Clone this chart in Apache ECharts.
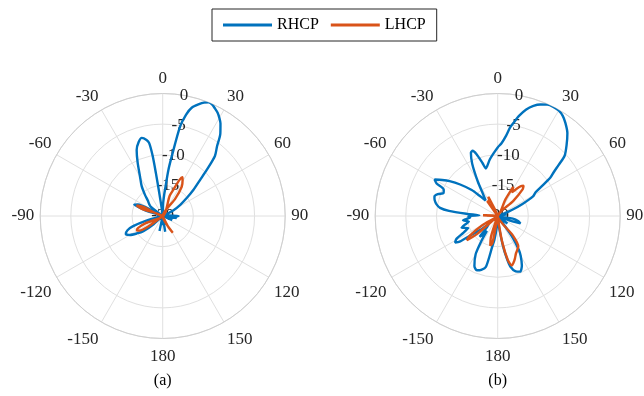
<!DOCTYPE html>
<html>
<head>
<meta charset="utf-8">
<script src="https://cdn.jsdelivr.net/npm/echarts@6/dist/echarts.min.js"></script>
<style>html,body{margin:0;padding:0;background:#fff}#c{width:644px;height:396px}</style>
</head>
<body>
<div id="c"></div>
<script>
// angle tick labels (degrees) and radius ticks (dB)
const angleTicks = [-180,-150,-120,-90,-60,-30,0,30,60,90,120,150,180];
const radiusTicks = [-20,-15,-10,-5,0];
const seriesNames = ['RHCP','LHCP'];
const panelTitles = ['(a)','(b)'];

// [angle deg, gain dB] — panel (a)
const rhcpA = [
[-180,-20],[-176,-18.5],[-173,-20],[-168,-17.5],[-164,-20],[-140,-20],[-132,-18],[-128,-16],[-124,-14.9],[-120,-13.8],[-116,-13.3],[-112,-13.8],[-109,-14.9],[-106,-17],[-102,-20],
[-96,-20],[-92,-19],[-88,-20],[-80,-20],[-72,-17],[-68,-15.0],[-65,-15.5],[-62,-18],[-57,-20],[-52,-17.5],[-48,-17],[-44,-16.5],[-40,-15.5],[-35,-14],[-30,-12.6],
[-25,-10.3],[-21.5,-8.4],[-18,-7.3],[-15,-6.8],[-12,-7.3],[-10.5,-7.9],[-9.5,-10],[-9,-13],[-8.5,-16],[-7,-19],[-3,-20],[0,-20],[2,-18],[4,-16.5],[5,-15.7],[7,-12.5],
[8.6,-10.2],[11,-5.1],[13,-3.0],[15,-1.7],[18,-0.8],[20,-0.3],[22,0],[24,-0.1],[26,-0.5],[28,-0.9],[30,-1.5],[32,-2.2],[35,-3.6],[38,-5.6],[41,-7.0],[43.7,-9.6],
[46,-11.5],[49.6,-13.4],[53,-15],[57.5,-16.6],[62,-18],[66,-19.5],[70,-20],[80,-20],[85,-19],[90,-17.4],[94,-18],[98,-17.7],[102,-20],[110,-20],[113,-18.3],[116,-20],
[150,-20],[160,-18.5],[165,-20],[171,-17.4],[175,-20],[180,-20]
];
const lhcpA = [
[-180,-20],[-130,-20],[-126,-17],[-122,-15.5],[-119,-15.2],[-116,-15.5],[-113,-17],[-110,-20],[-75,-20],[-71,-16.5],[-68,-15.4],[-65,-16.5],[-62,-20],
[0,-20],[16,-20],[19,-16.5],[22,-15.4],[25,-13.5],[27,-12.9],[29,-13.3],[33,-14.3],[36,-16.5],[39,-20],[145,-20],[149,-16.8],[153,-18],[156,-20],[180,-20]
];
// panel (b)
const rhcpB = [
[-180,-20],[-175,-18],[-172,-16],[-170,-15],[-167,-11.5],[-163,-10.8],[-159,-10.5],[-155,-11],[-150,-12.8],[-147,-15],[-144,-17],[-141,-16],[-139,-15.5],[-136,-17.5],
[-132,-18],[-129,-16.5],[-126,-15],[-124,-12.5],[-122,-11.8],[-119,-12.3],[-116,-13.8],[-112,-14.8],[-108,-13.8],[-105,-14.4],[-101,-15.2],[-97,-14.3],[-93,-15.5],
[-90,-15.2],[-88,-17],[-86,-15],[-84,-12],[-82,-10.5],[-79,-9.8],[-76,-9.4],[-73,-9.2],[-70,-9.6],[-67,-10.4],[-64,-10.2],[-62,-8.7],[-60,-8.1],[-57,-9.2],[-54,-10.3],
[-50,-12],[-45,-14],[-42,-15.5],[-38,-16.8],[-34,-15.8],[-30,-13.5],[-26,-10.5],[-23,-8.8],[-21,-8.6],[-19,-9.3],[-16,-11],[-14,-12],[-12,-11.7],[-8,-10.7],[-4,-9.8],
[0,-8.8],[3,-8.1],[6,-6.8],[8,-5.4],[10,-4.4],[12,-3.3],[15,-2.0],[18,-1.1],[21,-0.5],[24,-0.1],[27,0],[30,-0.1],[33,-0.5],[36,-1.2],[40,-2.3],[44,-3.8],[48,-5.3],
[50,-7.0],[52,-8.4],[54,-9.4],[56,-11.3],[58,-12.7],[61,-13.4],[64,-15.5],[67,-17.5],[70,-19],[74,-20],[78,-20],[80,-18.5],[84,-20],[95,-20],[100,-17.5],[104,-16.5],
[108,-16.1],[111,-18],[115,-20],[125,-19],[128,-18],[131,-20],[140,-20],[145,-16],[148,-13.5],[150,-12.5],[154,-11],[158,-10.2],[162,-10.5],[166,-11.5],[168,-13],
[170,-15],[173,-18],[176,-20],[180,-20]
];
const lhcpB = [
[-180,-20],[-172,-20],[-169,-15.5],[-166,-15],[-162,-16.5],[-158,-20],[-135,-20],[-131,-15.5],[-128,-13.6],[-125,-14.5],[-121,-17],[-117,-20],[-90,-20],[-87,-17.6],
[-84,-20],[-40,-20],[-35,-17],[-30,-17.5],[-26,-16.5],[-22,-19],[-15,-20],[20,-20],[25,-17],[28,-14.6],[31,-15.5],[35,-14.5],[38,-13.8],[40.5,-13.5],[43,-14],
[46,-16.5],[50,-20],[138,-20],[142,-16],[146,-14],[150,-13.6],[154,-13.2],[158,-12.5],[161,-12.0],[164,-11.6],[167,-12.6],[170,-15.5],[173,-19],[176,-20],[180,-20]
];

const FONT = 'Liberation Serif';
const BLUE = '#0072BD', ORANGE = '#D95319';
const centers = [[162.7,216],[497.7,216]];
const R = 122.5;

const polar = [], angleAxis = [], radiusAxis = [];
centers.forEach((c, i) => {
  polar.push({center: c, radius: R});
  angleAxis.push({
    polarIndex: i, type: 'value', min: angleTicks[0], max: angleTicks[angleTicks.length-1], interval: 30,
    startAngle: 270, clockwise: true,
    axisLine: {lineStyle: {color: '#cfcfcf', width: 1}},
    axisTick: {show: false},
    splitLine: {lineStyle: {color: '#e0e0e0', width: 1}},
    axisLabel: {margin: 6, padding: [4, 0, 0, 0], fontFamily: FONT, fontSize: 17, color: '#262626',
      showMinLabel: true, showMaxLabel: true,
      formatter: v => (Math.abs(v) === 180 ? '180' : String(v))}
  });
  radiusAxis.push({
    polarIndex: i, type: 'value', min: radiusTicks[0], max: radiusTicks[radiusTicks.length-1], interval: 5,
    axisLine: {show: false}, axisTick: {show: false}, axisLabel: {show: false},
    splitLine: {lineStyle: {color: '#e0e0e0', width: 1}}
  });
});
// overlay polars carrying the radial tick labels at 80 deg (math)
centers.forEach((c, i) => {
  polar.push({center: c, radius: R});
  angleAxis.push({polarIndex: 2 + i, type: 'value', min: 0, max: 360, startAngle: 80, show: false});
  radiusAxis.push({
    polarIndex: 2 + i, type: 'value', min: radiusTicks[0], max: radiusTicks[radiusTicks.length-1], interval: 5,
    axisLine: {show: false}, axisTick: {show: false}, splitLine: {show: false},
    axisLabel: {margin: 0, align: 'center', verticalAlign: 'middle', fontFamily: FONT, fontSize: 17,
      color: '#262626', showMinLabel: true, showMaxLabel: true}
  });
});

function mk(name, data, pi, color) {
  return {
    name: name, type: 'line', coordinateSystem: 'polar', polarIndex: pi,
    showSymbol: false, symbol: 'none', smooth: 0.25, z: 5,
    lineStyle: {color: color, width: 2.4}, itemStyle: {color: color},
    data: data.map(p => [p[1], p[0]])
  };
}

const chart = echarts.init(document.getElementById('c'), null, {renderer: 'canvas'});
chart.setOption({
  animation: false,
  backgroundColor: '#fff',
  polar, angleAxis, radiusAxis,
  legend: {
    data: seriesNames, left: 212, top: 9, itemWidth: 49, itemHeight: 3, icon: 'rect', itemGap: 12,
    padding: [8, 11, 8, 11], borderColor: '#262626', borderWidth: 1,
    textStyle: {fontFamily: FONT, fontSize: 16, color: '#000'}
  },
  graphic: panelTitles.map((t, i) => ({
    type: 'text', x: centers[i][0], y: 381,
    style: {text: t, font: '16px "Liberation Serif"', fill: '#000', textAlign: 'center', textVerticalAlign: 'middle'}
  })),
  series: [
    mk(seriesNames[0], rhcpA, 0, BLUE),
    mk(seriesNames[1], lhcpA, 0, ORANGE),
    mk(seriesNames[0], rhcpB, 1, BLUE),
    mk(seriesNames[1], lhcpB, 1, ORANGE)
  ]
});
</script>
</body>
</html>
